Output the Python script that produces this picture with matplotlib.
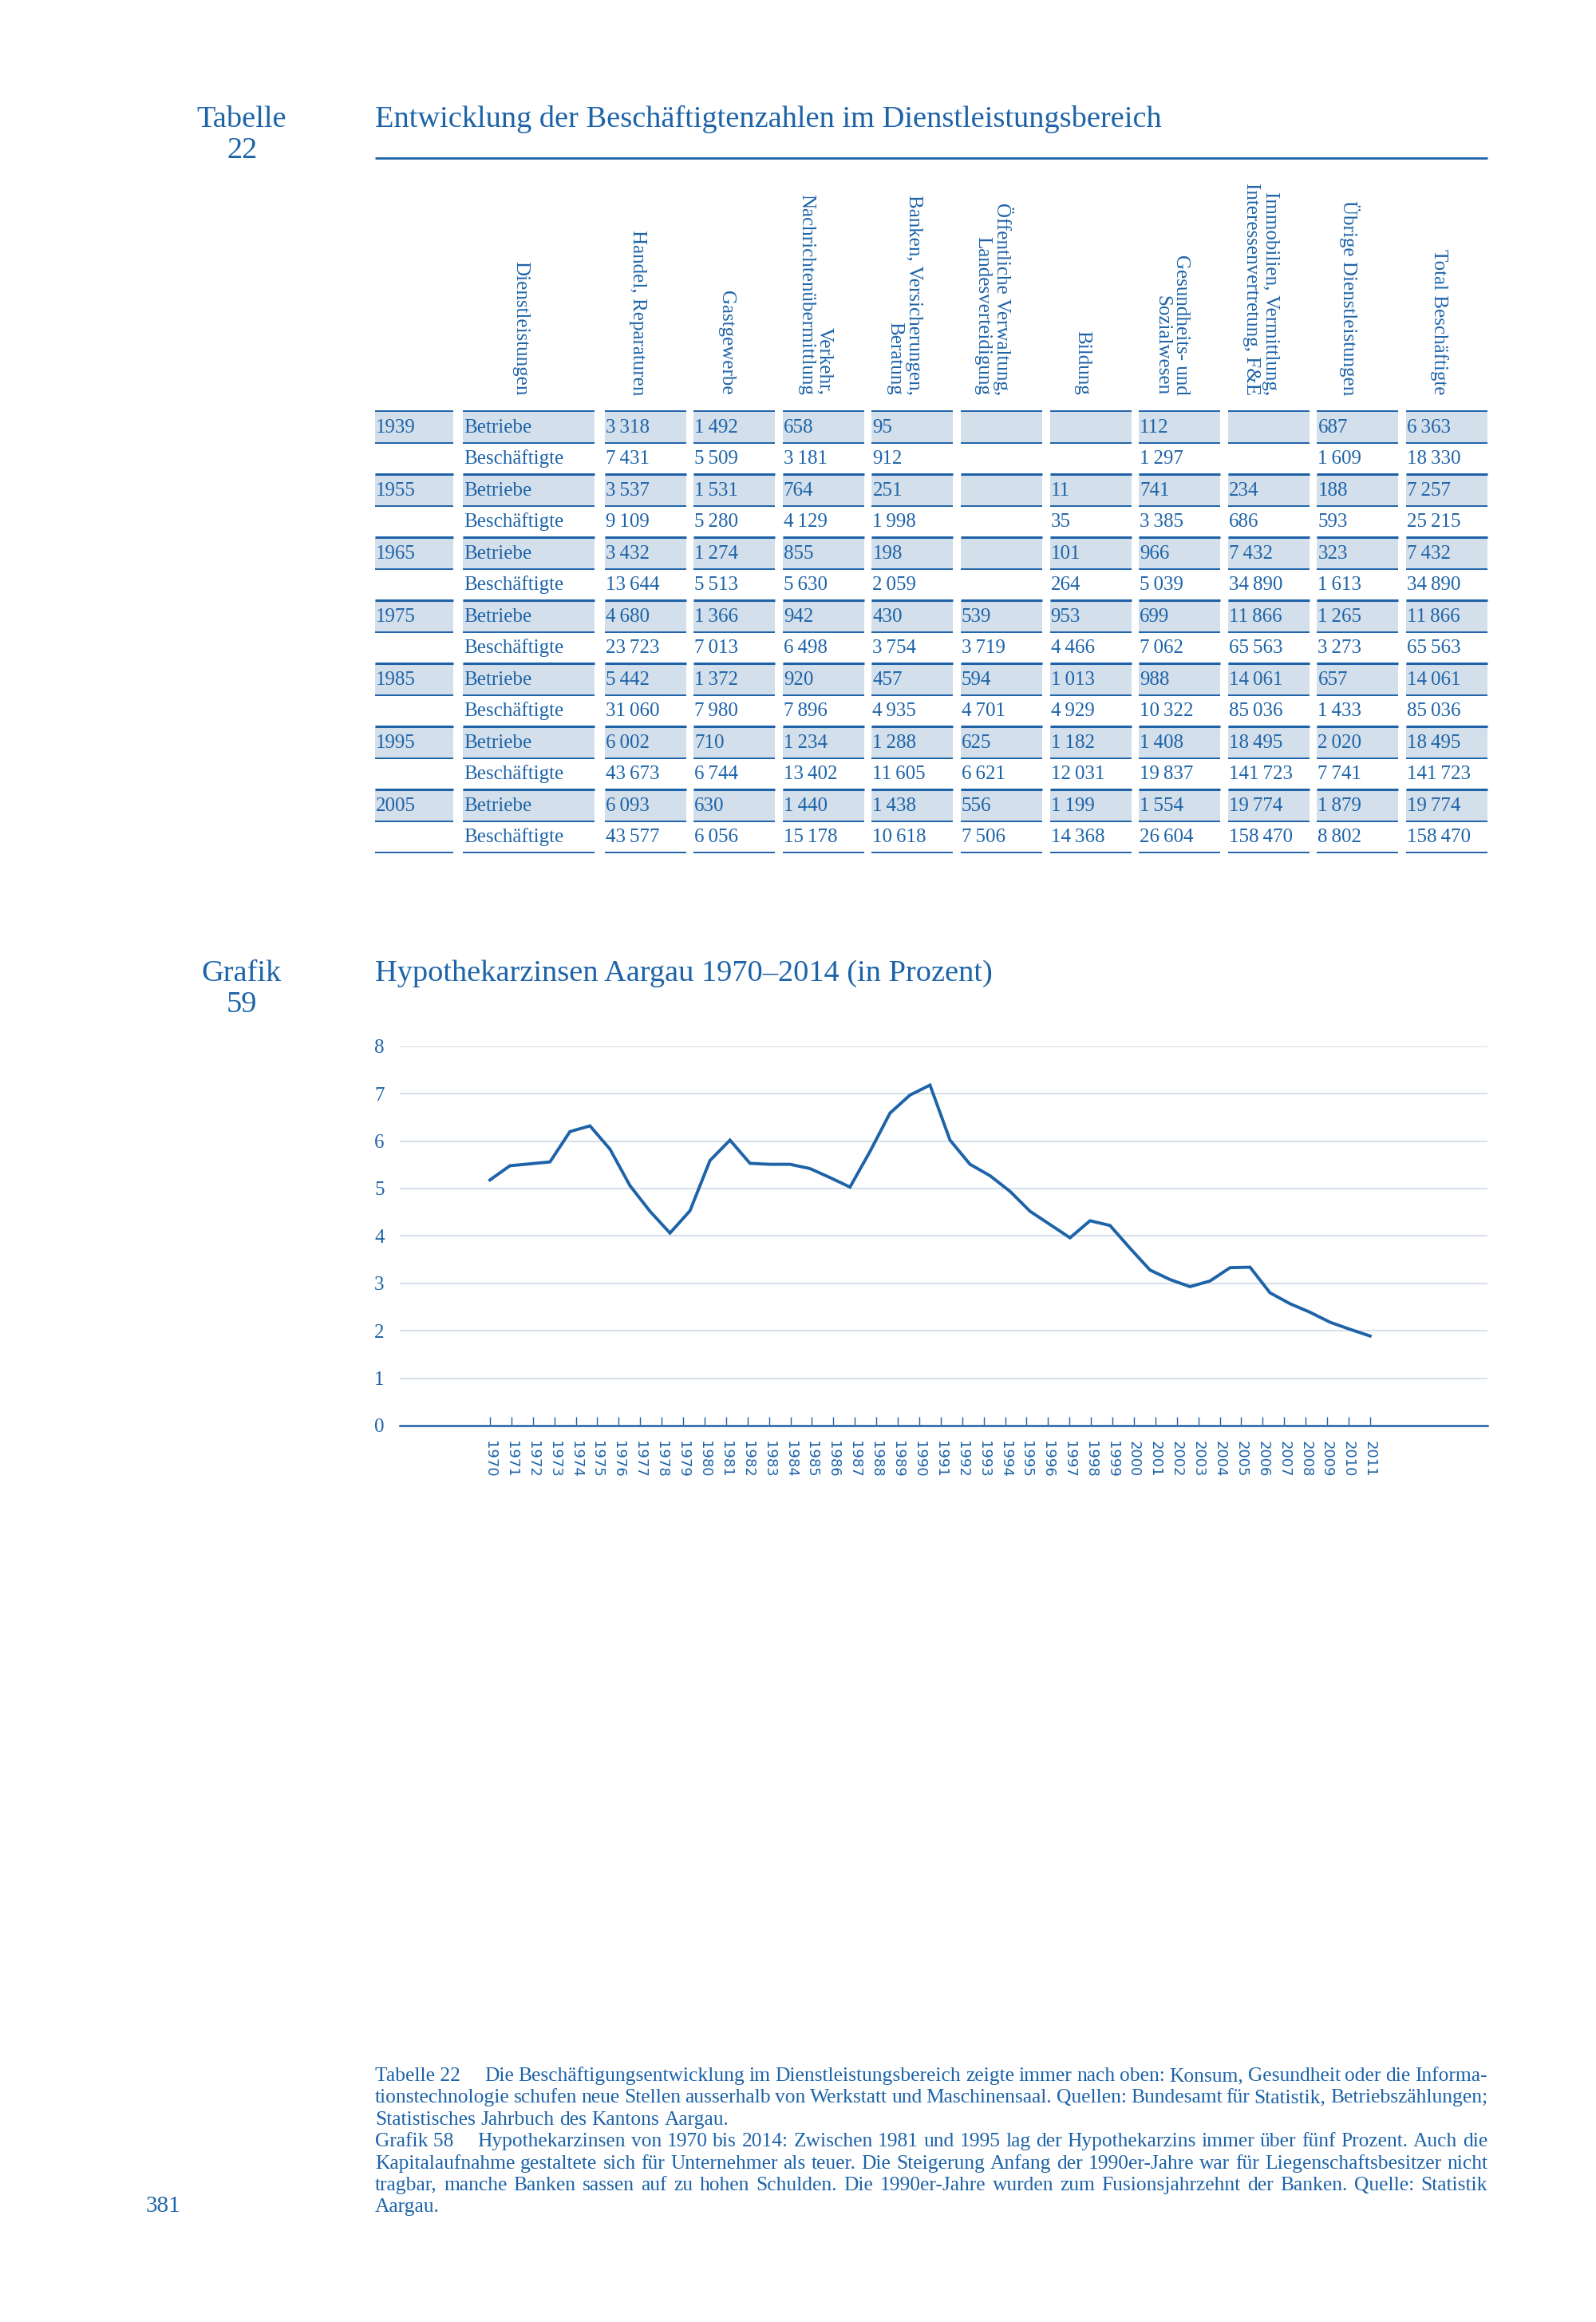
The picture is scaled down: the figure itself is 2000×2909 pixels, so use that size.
import numpy as np
import matplotlib
matplotlib.use("Agg")
import matplotlib.pyplot as plt
from matplotlib.patches import Rectangle

# --- data -----------------------------------------------------------------
tab_years = [1939, 1955, 1965, 1975, 1985, 1995, 2005]
columns = ["Handel, Reparaturen", "Gastgewerbe", "Verkehr,\nNachrichtenübermittlung",
           "Banken, Versicherungen,\nBeratung", "Öffentliche Verwaltung,\nLandesverteidigung",
           "Bildung", "Gesundheits- und\nSozialwesen",
           "Immobilien, Vermittlung,\nInteressenvertretung, F&E",
           "Übrige Dienstleistungen", "Total Beschäftigte"]
betriebe = [
    [3318, 1492, 658, 95, None, None, 112, None, 687, 6363],
    [3537, 1531, 764, 251, None, 11, 741, 234, 188, 7257],
    [3432, 1274, 855, 198, None, 101, 966, 7432, 323, 7432],
    [4680, 1366, 942, 430, 539, 953, 699, 11866, 1265, 11866],
    [5442, 1372, 920, 457, 594, 1013, 988, 14061, 657, 14061],
    [6002, 710, 1234, 1288, 625, 1182, 1408, 18495, 2020, 18495],
    [6093, 630, 1440, 1438, 556, 1199, 1554, 19774, 1879, 19774],
]
beschaeftigte = [
    [7431, 5509, 3181, 912, None, None, 1297, None, 1609, 18330],
    [9109, 5280, 4129, 1998, None, 35, 3385, 686, 593, 25215],
    [13644, 5513, 5630, 2059, None, 264, 5039, 34890, 1613, 34890],
    [23723, 7013, 6498, 3754, 3719, 4466, 7062, 65563, 3273, 65563],
    [31060, 7980, 7896, 4935, 4701, 4929, 10322, 85036, 1433, 85036],
    [43673, 6744, 13402, 11605, 6621, 12031, 19837, 141723, 7741, 141723],
    [43577, 6056, 15178, 10618, 7506, 14368, 26604, 158470, 8802, 158470],
]

rate_years = list(range(1970, 2015))
rates = [5.18, 5.48, 5.52, 5.56, 6.20, 6.32, 5.83, 5.06, 4.52, 4.06,
         4.53, 5.59, 6.02, 5.53, 5.51, 5.51, 5.42, 5.23, 5.03, 5.78,
         6.59, 6.97, 7.18, 6.02, 5.51, 5.27, 4.94, 4.52, 4.24, 3.96,
         4.32, 4.22, 3.74, 3.28, 3.08, 2.93, 3.05, 3.33, 3.34, 2.80,
         2.57, 2.39, 2.18, 2.03, 1.89]
tick_years = list(range(1970, 2012))

foot_lines = [
    ("Tabelle 22", "Die Beschäftigungsentwicklung im Dienstleistungsbereich zeigte immer nach oben: Konsum, Gesundheit oder die Informa-", True),
    (None, "tionstechnologie schufen neue Stellen ausserhalb von Werkstatt und Maschinensaal. Quellen: Bundesamt für Statistik, Betriebszählungen;", True),
    (None, "Statistisches Jahrbuch des Kantons Aargau.", False),
    ("Grafik 58", "Hypothekarzinsen von 1970 bis 2014: Zwischen 1981 und 1995 lag der Hypothekarzins immer über fünf Prozent. Auch die", True),
    (None, "Kapitalaufnahme gestaltete sich für Unternehmer als teuer. Die Steigerung Anfang der 1990er-Jahre war für Liegenschaftsbesitzer nicht", True),
    (None, "tragbar, manche Banken sassen auf zu hohen Schulden. Die 1990er-Jahre wurden zum Fusionsjahrzehnt der Banken. Quelle: Statistik", True),
    (None, "Aargau.", False),
]

# --- style ----------------------------------------------------------------
BLUE = "#1d63a8"
LINE = "#1f62a8"
SHADE = "#d3dfeb"
GRID = "#d5dfea"
SERIF = ["Liberation Serif", "DejaVu Serif"]
SANS = ["DejaVu Sans"]
HEAD = 13.8

W, H = 2000, 2909
fig = plt.figure(figsize=(W / 200, H / 200), dpi=200)
page = fig.add_axes([0, 0, 1, 1])
page.set_xlim(0, W)
page.set_ylim(H, 0)
page.axis("off")

def fmt(v):
    return "" if v is None else f"{v:,}".replace(",", "\u2009")

# --- table ----------------------------------------------------------------
X0 = 470
page.text(303, 159, "Tabelle", family=SERIF, fontsize=HEAD, color=BLUE, ha="center", va="baseline")
page.text(303, 198, "22", family=SERIF, fontsize=HEAD, color=BLUE, ha="center", va="baseline")
page.text(X0, 159, "Entwicklung der Beschäftigtenzahlen im Dienstleistungsbereich",
          family=SERIF, fontsize=HEAD, color=BLUE, va="baseline")
page.plot([X0, 1864], [198, 198], color=LINE, lw=1.0, solid_capstyle="butt")

# column boxes: (left, width)
cells = [(470, 98), (580, 165)] + [(757.6 + 111.6 * i, 102) for i in range(len(columns))]
top = 515
pitch = 39.5
header_bottom = 495

headers = ["Dienstleistungen"] + columns
for (cx, cw), h in zip(cells[1:], headers):
    page.text(cx + cw / 2 - 10, header_bottom, h, family=SERIF, fontsize=9, color=BLUE,
              rotation=270, rotation_mode="anchor", ha="right", va="center",
              multialignment="right", linespacing=1.1)

for k, yr in enumerate(tab_years):
    y_b = top + 2 * k * pitch
    y_s = y_b + pitch
    row_b = [str(yr), "Betriebe"] + [fmt(v) for v in betriebe[k]]
    row_s = ["", "Beschäftigte"] + [fmt(v) for v in beschaeftigte[k]]
    for j, (cx, cw) in enumerate(cells):
        page.add_patch(Rectangle((cx, y_b), cw, pitch, facecolor=SHADE, edgecolor="none"))
        page.plot([cx, cx + cw], [y_b, y_b], color=LINE, lw=0.7 if k == 0 else 1.1,
                  solid_capstyle="butt")
        page.plot([cx, cx + cw], [y_s, y_s], color=LINE, lw=0.7, solid_capstyle="butt")
        if k == len(tab_years) - 1:
            page.plot([cx, cx + cw], [y_s + pitch, y_s + pitch], color=LINE, lw=0.7,
                      solid_capstyle="butt")
        page.text(cx + 1, y_b + pitch / 2 + 7, row_b[j], family=SERIF, fontsize=9,
                  color=BLUE, va="baseline")
        page.text(cx + 1, y_s + pitch / 2 + 7, row_s[j], family=SERIF, fontsize=9,
                  color=BLUE, va="baseline")

# --- chart ----------------------------------------------------------------
page.text(303, 1229, "Grafik", family=SERIF, fontsize=HEAD, color=BLUE, ha="center", va="baseline")
page.text(303, 1268, "59", family=SERIF, fontsize=HEAD, color=BLUE, ha="center", va="baseline")
page.text(X0, 1229, "Hypothekarzinsen Aargau 1970–2014 (in Prozent)",
          family=SERIF, fontsize=HEAD, color=BLUE, va="baseline")

ax_l, ax_r, ax_t, ax_b = 501, 1864, 1310.7, 1786
ax = fig.add_axes([ax_l / W, 1 - ax_b / H, (ax_r - ax_l) / W, (ax_b - ax_t) / H])
ax.set_facecolor("none")
ax.set_ylim(0, 8)
cat_lo, cat_hi = -4.2, 46.47
ax.set_xlim(cat_lo, cat_hi)
ax.set_xticks(np.arange(len(tick_years)))
ax.set_xticklabels([str(y) for y in tick_years], family=SANS, fontsize=6.5, color=BLUE,
                   rotation=270, ha="center", va="top")
ax.set_yticks(range(9))
ax.set_yticklabels([str(v) for v in range(9)], family=SERIF, fontsize=9, color=BLUE)
ax.tick_params(axis="x", direction="in", length=4, width=0.5, color=LINE, pad=7)
ax.tick_params(axis="y", length=0, pad=7)
ax.yaxis.grid(True, color=GRID, lw=0.7)
ax.set_axisbelow(True)
for s in ["top", "right", "left"]:
    ax.spines[s].set_visible(False)
ax.spines["bottom"].set_color(LINE)
ax.spines["bottom"].set_linewidth(0.9)

# the series (1970-2014) is stretched over the category ticks 1970-2011
ax2 = ax.twiny()
scale = (rate_years[-1] - rate_years[0]) / (tick_years[-1] - tick_years[0])
ax2.set_xlim(rate_years[0] + cat_lo * scale, rate_years[0] + cat_hi * scale)
ax2.set_xticks([])
for s in ax2.spines.values():
    s.set_visible(False)
ax2.plot(rate_years, rates, color=BLUE, lw=1.4, solid_joinstyle="miter")

# --- footnote (justified) -------------------------------------------------
renderer = fig.canvas.get_renderer()
fx0, fx1 = X0, 1864
base = 2607
lead = 27.4
prefix_gap = 30


def layout_line(prefix, body, fs):
    y = 0
    items = []
    if prefix:
        items.append(page.text(0, y, prefix, family=SERIF, fontsize=fs, color=BLUE, va="baseline"))
    for w in body.split(" "):
        items.append(page.text(0, y, w, family=SERIF, fontsize=fs, color=BLUE, va="baseline"))
    widths = [t.get_window_extent(renderer).width for t in items]
    return items, widths


# pick the largest size at which every justified line still has normal spaces
fs = 9.4
while fs > 6:
    ok = True
    for prefix, body, justify in foot_lines:
        if not justify:
            continue
        items, widths = layout_line(prefix, body, fs)
        n_gaps = len(items) - 1
        free = fx1 - fx0 - sum(widths) - (prefix_gap if prefix else 0)
        if prefix:
            n_gaps -= 1
        for t in items:
            t.remove()
        if free / n_gaps < fs * 200 / 72 * 0.2:
            ok = False
            break
    if ok:
        break
    fs -= 0.1

for i, (prefix, body, justify) in enumerate(foot_lines):
    y = base + i * lead
    items, widths = layout_line(prefix, body, fs)
    x = fx0
    if prefix:
        items[0].set_position((x, y))
        x += widths[0] + prefix_gap
        items, widths = items[1:], widths[1:]
    if justify and len(items) > 1:
        gap = (fx1 - x - sum(widths)) / (len(items) - 1)
    else:
        gap = fs * 200 / 72 * 0.25
    for t, w in zip(items, widths):
        t.set_position((x, y))
        x += w + gap

page.text(204, base + 6 * lead, "381", family=SERIF, fontsize=10.5, color=BLUE,
          ha="center", va="baseline")

fig.savefig("out.png", dpi=200)
